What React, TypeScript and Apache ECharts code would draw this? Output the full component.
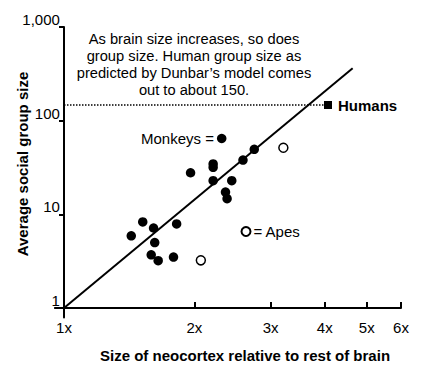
import React, { useEffect, useRef } from "react";
import * as echarts from "echarts";

// Data (original units)
const monkeyX = [2.75, 2.59, 2.21, 2.21, 1.96, 2.21, 2.44, 2.36, 2.38, 1.52, 1.61, 1.82, 1.43, 1.62, 1.59, 1.65, 1.79];
const monkeyY = [49.4, 38, 34.5, 31.8, 27.8, 22.9, 22.9, 17.3, 14.7, 8.3, 7.15, 7.9, 5.9, 5.0, 3.7, 3.2, 3.5];
const apeX = [3.21, 2.07];
const apeY = [51.4, 3.23];
const humanX = [4.07];
const humanY = [147];
const fitX = [1, 4.64];
const fitY = [1, 362];
const xTicks = [1, 2, 3, 4, 5, 6];
const yTicks = [1, 10, 100, 1000];

const FONT = "'Liberation Sans', Arial, Helvetica, sans-serif";
const INK = "#000";

const lg = (v: number) => Math.log10(v);
const pts = (xs: number[], ys: number[]) => xs.map((x, i) => [lg(x), lg(ys[i])]);

export default function App() {
  const ref = useRef<HTMLDivElement>(null);
  useEffect(() => {
    if (!ref.current) return;
    const chart = echarts.init(ref.current, undefined, { renderer: "svg" });
    chart.setOption({
      animation: false,
      backgroundColor: "#fff",
      textStyle: { fontFamily: FONT, color: INK },
      grid: { left: 54.9, right: 21, top: 27, bottom: 49.6, containLabel: false, outerBoundsMode: "none" },
      xAxis: {
        type: "value",
        min: -0.021,
        max: lg(6),
        axisLine: { show: true, onZero: true, lineStyle: { color: INK, width: 2 } },
        axisTick: { show: true, inside: true, length: 6, customValues: xTicks.map(lg), lineStyle: { color: INK, width: 2 } },
        axisLabel: {
          customValues: xTicks.map(lg),
          formatter: (v: number) => Math.round(Math.pow(10, v)) + "x",
          margin: 3,
          fontSize: 15,
          color: INK,
          fontFamily: FONT,
        },
        splitLine: { show: false },
      },
      yAxis: {
        type: "value",
        min: -0.1,
        max: 3,
        axisLine: { show: true, onZero: true, lineStyle: { color: INK, width: 2 } },
        axisTick: { show: true, length: 5, customValues: yTicks.map(lg), lineStyle: { color: INK, width: 2 } },
        axisLabel: {
          customValues: yTicks.map(lg),
          formatter: (v: number) => Math.round(Math.pow(10, v)).toLocaleString("en-US"),
          margin: -5,
          fontSize: 15,
          color: INK,
          fontFamily: FONT,
          verticalAlign: "bottom",
        },
        splitLine: { show: false },
      },
      legend: [
        {
          data: ["Monkeys"],
          left: 141,
          top: 131,
          padding: 0,
          align: "right",
          icon: "circle",
          itemWidth: 9.5,
          itemHeight: 9.5,
          selectedMode: false,
          formatter: () => "Monkeys =",
          textStyle: { fontSize: 15, color: INK, fontFamily: FONT, padding: [0, -2, 0, 0] },
        },
        {
          data: ["Apes"],
          left: 240.5,
          top: 224,
          padding: 0,
          icon: "circle",
          itemWidth: 9,
          itemHeight: 9,
          selectedMode: false,
          formatter: () => "= Apes",
          textStyle: { fontSize: 15, color: INK, fontFamily: FONT, padding: [0, 0, 0, -2] },
        },
      ],
      graphic: [
        {
          type: "text",
          x: 194,
          y: 30,
          style: {
            text: "As brain size increases, so does\ngroup size. Human group size as\npredicted by Dunbar\u2019s model comes\nout to about 150.",
            textAlign: "center",
            textVerticalAlign: "top",
            fontSize: 14.7,
            lineHeight: 17,
            fontFamily: FONT,
            fill: INK,
          },
        },
        {
          type: "text",
          x: 245,
          y: 355,
          style: {
            text: "Size of neocortex relative to rest of brain",
            textAlign: "center",
            textVerticalAlign: "middle",
            fontSize: 15,
            fontWeight: "bold",
            fontFamily: FONT,
            fill: INK,
          },
        },
        {
          type: "text",
          x: 22,
          y: 164,
          rotation: Math.PI / 2,
          style: {
            text: "Average social group size",
            textAlign: "center",
            textVerticalAlign: "middle",
            fontSize: 15,
            fontWeight: "bold",
            fontFamily: FONT,
            fill: INK,
          },
        },
      ],
      series: [
        {
          name: "fit",
          type: "line",
          data: pts(fitX, fitY),
          symbol: "none",
          lineStyle: { color: INK, width: 2 },
          silent: true,
        },
        {
          name: "humanLine",
          type: "line",
          data: [[0, lg(humanY[0])], [lg(humanX[0]), lg(humanY[0])]],
          symbol: "none",
          lineStyle: { color: INK, width: 1.5, type: "dotted" },
          silent: true,
        },
        {
          name: "Humans",
          type: "scatter",
          data: pts(humanX, humanY),
          symbol: "rect",
          symbolSize: 8,
          itemStyle: { color: INK, opacity: 1 },
          label: {
            show: true,
            position: "right",
            distance: 6,
            formatter: "Humans",
            fontSize: 15,
            fontWeight: "bold",
            color: INK,
            fontFamily: FONT,
          },
        },
        {
          name: "Monkeys",
          type: "scatter",
          data: pts(monkeyX, monkeyY),
          symbol: "circle",
          symbolSize: 9.5,
          itemStyle: { color: INK, opacity: 1 },
        },
        {
          name: "Apes",
          type: "scatter",
          data: pts(apeX, apeY),
          symbol: "circle",
          symbolSize: 9,
          itemStyle: { color: "#fff", borderColor: INK, borderWidth: 1.5, opacity: 1 },
        },
      ],
    });
    return () => chart.dispose();
  }, []);
  return <div ref={ref} style={{ position: "fixed", left: 0, top: 0, width: 422, height: 367 }} />;
}
